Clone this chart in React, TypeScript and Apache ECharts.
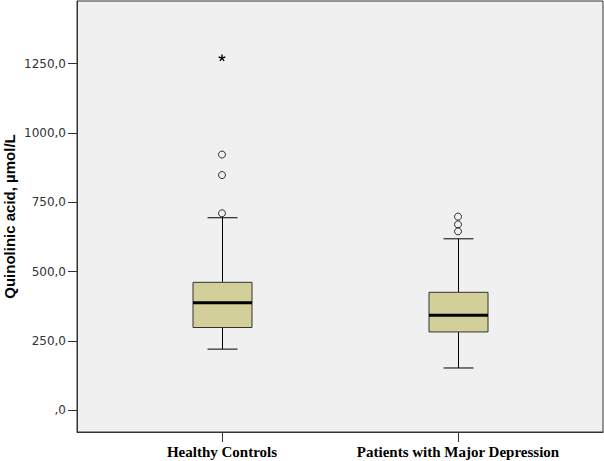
import React, { useEffect, useRef } from "react";
import * as echarts from "echarts";

const categories = ["Healthy Controls", "Patients with Major Depression"];
// [lower whisker, Q1, median, Q3, upper whisker]
const healthyBox = [220, 298, 387, 461, 694];
const patientsBox = [152, 282, 342, 425, 618];
const healthyOutliers = [710, 848, 922];
const patientsOutliers = [645, 670, 698];
const healthyExtremes = [1270];
const patientsExtremes: number[] = [];
const yTicks = [0, 250, 500, 750, 1000, 1250];

const BOX_W = 59;
const CAP_W = 30;

export default function App() {
  const ref = useRef<HTMLDivElement>(null);
  useEffect(() => {
    if (!ref.current) return;
    const chart = echarts.init(ref.current, null, { renderer: "svg" });
    const boxes = [healthyBox, patientsBox].map((b, i) => [i, ...b]);
    const outliers = [
      ...healthyOutliers.map((v) => [0, v]),
      ...patientsOutliers.map((v) => [1, v]),
    ];
    const extremes = [
      ...healthyExtremes.map((v) => [0, v]),
      ...patientsExtremes.map((v) => [1, v]),
    ];
    const lineStyle = { stroke: "#000", lineWidth: 1 };
    chart.setOption({
      animation: false,
      backgroundColor: "#fff",
      grid: {
        left: 77,
        right: 1,
        top: 1,
        bottom: 29,
        containLabel: false,
        outerBoundsMode: "none",
        show: true,
        backgroundColor: "#f0f0f0",
        borderColor: "#333",
        borderWidth: 1,
      },
      xAxis: {
        type: "value",
        min: -0.6144,
        max: 1.6144,
        splitLine: { show: false },
        axisLine: { show: true, onZero: false, lineStyle: { color: "#333" } },
        axisTick: {
          show: true,
          customValues: [0, 1],
          length: 10,
          lineStyle: { color: "#333" },
        },
        axisLabel: {
          customValues: [0, 1],
          formatter: (v: number) => categories[Math.round(v)],
          fontFamily: "Liberation Serif",
          fontWeight: "bold",
          fontSize: 15,
          color: "#000",
          margin: 12,
        },
      },
      yAxis: {
        type: "value",
        min: -79,
        max: 1476,
        name: "Quinolinic acid, µmol/L",
        nameLocation: "middle",
        nameGap: 60,
        nameMoveOverlap: false,
        nameTextStyle: {
          fontFamily: "Liberation Sans",
          fontWeight: "bold",
          fontSize: 15,
          color: "#000",
        },
        splitLine: { show: false },
        axisLine: { show: true, onZero: false, lineStyle: { color: "#333" } },
        axisTick: {
          show: true,
          customValues: yTicks,
          length: 9,
          lineStyle: { color: "#333" },
        },
        axisLabel: {
          customValues: yTicks,
          formatter: (v: number) =>
            v === 0 ? ",0" : v.toFixed(1).replace(".", ","),
          fontFamily: "DejaVu Sans",
          fontSize: 12,
          color: "#333",
          margin: 11,
        },
      },
      series: [
        {
          type: "custom",
          data: boxes,
          renderItem: (_params: any, api: any) => {
            const x = api.value(0);
            const lo = api.coord([x, api.value(1)]);
            const q1 = api.coord([x, api.value(2)]);
            const med = api.coord([x, api.value(3)]);
            const q3 = api.coord([x, api.value(4)]);
            const hi = api.coord([x, api.value(5)]);
            const cx = Math.round(lo[0]) + 0.5;
            const hb = BOX_W / 2;
            const hc = CAP_W / 2;
            return {
              type: "group",
              children: [
                { type: "line", shape: { x1: cx, y1: hi[1], x2: cx, y2: q3[1] }, style: lineStyle },
                { type: "line", shape: { x1: cx, y1: q1[1], x2: cx, y2: lo[1] }, style: lineStyle },
                { type: "line", shape: { x1: cx - hc, y1: hi[1], x2: cx + hc, y2: hi[1] }, style: lineStyle },
                { type: "line", shape: { x1: cx - hc, y1: lo[1], x2: cx + hc, y2: lo[1] }, style: lineStyle },
                {
                  type: "rect",
                  shape: { x: cx - hb, y: q3[1], width: BOX_W, height: q1[1] - q3[1] },
                  style: { fill: "#d3cf9b", stroke: "#333", lineWidth: 1 },
                },
                {
                  type: "line",
                  shape: { x1: cx - hb, y1: med[1], x2: cx + hb, y2: med[1] },
                  style: { stroke: "#000", lineWidth: 3 },
                },
              ],
            };
          },
        },
        {
          type: "scatter",
          data: outliers,
          symbol: "circle",
          symbolSize: 7,
          itemStyle: { color: "rgba(0,0,0,0)", borderColor: "#000", borderWidth: 1 },
        },
        {
          type: "custom",
          data: extremes,
          renderItem: (_params: any, api: any) => {
            const p = api.coord([api.value(0), api.value(1)]);
            const r = 3.5;
            const children = [0, 1, 2, 3, 4].map((k) => {
              const a = -Math.PI / 2 + (k * 2 * Math.PI) / 5;
              return {
                type: "line",
                shape: { x1: p[0], y1: p[1], x2: p[0] + r * Math.cos(a), y2: p[1] + r * Math.sin(a) },
                style: { stroke: "#000", lineWidth: 1.4 },
              };
            });
            return { type: "group", children };
          },
        },
      ],
    });
    return () => chart.dispose();
  }, []);
  return (
    <div
      ref={ref}
      style={{ position: "fixed", left: 0, top: 0, width: 604, height: 461 }}
    />
  );
}
